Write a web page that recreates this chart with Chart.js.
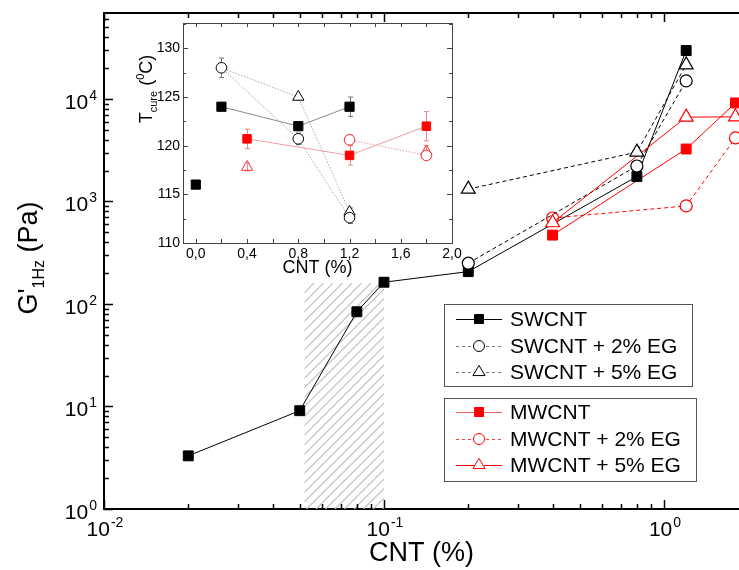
<!DOCTYPE html>
<html lang="en">
<head>
<meta charset="UTF-8">
<title>G' 1Hz vs CNT</title>
<script src="https://cdn.jsdelivr.net/npm/chart.js"></script>
<style>
  body { margin: 0; background: #fff; }
  #wrap { position: relative; width: 739px; height: 570px; }
  #main { position: absolute; left: 0; top: 0; }
  #inset { position: absolute; left: 130px; top: 15px; }
</style>
</head>
<body>
<div id="wrap">
  <canvas id="main" width="739" height="570"></canvas>
  <canvas id="inset" width="345" height="264"></canvas>
</div>
<script>
// main plot: G' at 1 Hz (Pa) against CNT content (%)
const swX = [0.02, 0.05, 0.08, 0.1, 0.2, 0.8, 1.2];
const swG = [3.3, 9.1, 84, 163, 207, 1750, 29700];
const sw2X = [0.2, 0.8, 1.2];
const sw2G = [250, 2220, 15000];
const sw5X = [0.2, 0.8, 1.2];
const sw5G = [1320, 3030, 21500];
const mwX = [0.4, 1.2, 1.8];
const mwG = [470, 3250, 9150];
const mw2X = [0.4, 1.2, 1.8];
const mw2G = [690, 905, 4170];
const mw5X = [0.4, 1.2, 1.8];
const mw5G = [620, 6650, 6700];
const xDecades = [0.01, 0.1, 1];
const yDecades = [1, 10, 100, 1000, 10000];
const hatchX = [0.052, 0.1];
const hatchTop = 160;

// inset: cure temperature (°C) against CNT content (%)
const inSwX = [0, 0.2, 0.8, 1.2];
const inSwT = [116, 124, 122, 124];
const inSwE = [0.3, 0.3, 0.4, 1.0];
const inSw2X = [0.2, 0.8, 1.2];
const inSw2T = [128, 120.7, 112.6];
const inSw2E = [1.0, 0.6, 0.6];
const inSw5X = [0.2, 0.8, 1.2];
const inSw5T = [128, 125, 113.2];
const inSw5E = [0, 0.3, 0.4];
const inMwX = [0.4, 1.2, 1.8];
const inMwT = [120.7, 119.0, 122.0];
const inMwE = [1.0, 1.0, 1.5];
const inMw2X = [1.2, 1.8];
const inMw2T = [120.6, 119.0];
const inMw2E = [0.5, 0.4];
const inMw5X = [0.4, 1.8];
const inMw5T = [117.8, 119.4];
const inMw5E = [0.4, 0.6];
const inXTicks = [0, 0.4, 0.8, 1.2, 1.6, 2.0];
const inYTicks = [110, 115, 120, 125, 130];

const FONT = '"Liberation Sans", Arial, sans-serif';
Chart.defaults.font.family = FONT;
Chart.defaults.color = '#000';

const pts = (xs, ys) => xs.map((x, i) => ({x: x, y: ys[i]}));

// "10" with a raised exponent; align 'right' -> right edge at x, 'center' -> centred on x
function drawPow(ctx, v, x, base, align) {
    const e = String(Math.round(Math.log10(v)));
    ctx.font = '21px ' + FONT;
    const wb = ctx.measureText('10').width;
    ctx.font = '14px ' + FONT;
    const we = ctx.measureText(e).width + 1;
    let sx = align === 'right' ? x - wb - we : x - (wb + we) / 2;
    ctx.font = '21px ' + FONT;
    ctx.fillText('10', sx, base);
    ctx.font = '14px ' + FONT;
    ctx.fillText(e, sx + wb + 1, base - 9);
}

function marker(ctx, style, x, y, r, stroke, fill) {
    ctx.beginPath();
    if (style === 'rect') ctx.rect(x - r, y - r, 2 * r, 2 * r);
    else if (style === 'circle') ctx.arc(x, y, r, 0, Math.PI * 2);
    else { ctx.moveTo(x, y - r * 1.2); ctx.lineTo(x + r * 1.1, y + r * 0.65); ctx.lineTo(x - r * 1.1, y + r * 0.65); ctx.closePath(); }
    ctx.fillStyle = fill; ctx.fill();
    ctx.lineWidth = 1; ctx.strokeStyle = stroke; ctx.stroke();
}

const legendRows = [
    {label: 'SWCNT', y: 319, line: '#000', dash: [], style: 'rect', stroke: '#000', fill: '#000'},
    {label: 'SWCNT + 2% EG', y: 346, line: '#777', dash: [3, 3], style: 'circle', stroke: '#000', fill: '#fff'},
    {label: 'SWCNT + 5% EG', y: 372, line: '#777', dash: [3, 3], style: 'triangle', stroke: '#000', fill: '#fff'},
    {label: 'MWCNT', y: 412, line: '#f06060', dash: [], style: 'rect', stroke: '#f00', fill: '#f00'},
    {label: 'MWCNT + 2% EG', y: 439, line: '#f04040', dash: [3, 3], style: 'circle', stroke: '#f00', fill: '#fff'},
    {label: 'MWCNT + 5% EG', y: 465, line: '#f00', dash: [], style: 'triangle', stroke: '#f00', fill: '#fff'}
];

const mainFrame = {
    id: 'mainFrame',
    beforeDatasetsDraw(chart) {
        // hatched percolation band
        const {ctx, chartArea: a, scales: {x, y}} = chart;
        const l = x.getPixelForValue(hatchX[0]), r = x.getPixelForValue(hatchX[1]);
        const t = y.getPixelForValue(hatchTop), b = a.bottom;
        ctx.save();
        ctx.beginPath(); ctx.rect(l, t, r - l, b - t); ctx.clip();
        ctx.strokeStyle = '#c4c4c4'; ctx.lineWidth = 1.3;
        ctx.beginPath();
        for (let k = l - (b - t); k < r + 10; k += 9.5) {
            ctx.moveTo(k, b); ctx.lineTo(k + (b - t), t);
        }
        ctx.stroke();
        ctx.restore();
    },
    afterDraw(chart) {
        const {ctx, chartArea: a, scales: {x, y}} = chart;
        ctx.save();
        ctx.strokeStyle = '#000';
        ctx.lineWidth = 2;
        ctx.beginPath(); ctx.moveTo(a.left - 1, a.top); ctx.lineTo(a.right, a.top); ctx.stroke();
        // inward ticks
        ctx.lineWidth = 1.5;
        ctx.beginPath();
        for (let d = 0.01; d < 5; d *= 10) {
            for (let m = 1; m < 10; m++) {
                const v = d * m;
                if (v > x.max) break;
                const px = Math.round(x.getPixelForValue(v)) + 0.5, len = m === 1 ? 9 : 5;
                ctx.moveTo(px, a.bottom); ctx.lineTo(px, a.bottom - len);
                ctx.moveTo(px, a.top); ctx.lineTo(px, a.top + len);
            }
        }
        for (let d = 1; d < 1e5; d *= 10) {
            for (let m = 1; m < 10; m++) {
                const v = d * m;
                if (v > y.max) break;
                const py = Math.round(y.getPixelForValue(v)) + 0.5, len = m === 1 ? 9 : 5;
                ctx.moveTo(a.left, py); ctx.lineTo(a.left + len, py);
            }
        }
        ctx.stroke();

        // decade tick labels
        ctx.fillStyle = '#000';
        ctx.textBaseline = 'alphabetic';
        ctx.textAlign = 'left';
        xDecades.forEach(v => drawPow(ctx, v, x.getPixelForValue(v) + 1, a.bottom + 27, 'center'));
        yDecades.forEach(v => drawPow(ctx, v, a.left - 7, y.getPixelForValue(v) + 10, 'right'));

        // legend boxes
        ctx.lineWidth = 1;
        ctx.strokeStyle = '#555';
        ctx.strokeRect(444.5, 304.5, 248, 82);
        ctx.strokeRect(444.5, 398.5, 252, 83);
        ctx.textBaseline = 'middle';
        legendRows.forEach(row => {
            ctx.setLineDash(row.dash);
            ctx.strokeStyle = row.line;
            ctx.lineWidth = 1;
            ctx.beginPath(); ctx.moveTo(456, row.y + 0.5); ctx.lineTo(502, row.y + 0.5); ctx.stroke();
            ctx.setLineDash([]);
            marker(ctx, row.style, 479, row.y, row.style === 'rect' ? 4.5 : 5.5, row.stroke, row.fill);
            ctx.fillStyle = '#000';
            ctx.font = '21px ' + FONT;
            ctx.fillText(row.label, 510, row.y + 1);
        });

        // y axis title G'1Hz (Pa)
        ctx.translate(37, 258);
        ctx.rotate(-Math.PI / 2);
        ctx.textBaseline = 'alphabetic';
        const big = '27px ' + FONT;
        const small = '16px ' + FONT;
        ctx.font = big; const w1 = ctx.measureText("G'").width;
        ctx.font = small; const w2 = ctx.measureText('1Hz').width;
        ctx.font = big; const w3 = ctx.measureText(' (Pa)').width;
        let sx = -(w1 + w2 + w3) / 2;
        ctx.fillStyle = '#000';
        ctx.font = big; ctx.fillText("G'", sx, 0); sx += w1;
        ctx.font = small; ctx.fillText('1Hz', sx, 7); sx += w2;
        ctx.font = big; ctx.fillText(' (Pa)', sx, 0);
        ctx.restore();
    }
};

new Chart(document.getElementById('main'), {
    type: 'scatter',
    data: {
        datasets: [
            {label: 'SWCNT', data: pts(swX, swG), showLine: true, borderColor: '#000', borderWidth: 1,
             pointStyle: 'rect', pointRadius: 7, pointBackgroundColor: '#000', pointBorderColor: '#000', order: 3},
            {label: 'SWCNT + 2% EG', data: pts(sw2X, sw2G), showLine: true, borderColor: '#000', borderWidth: 1, borderDash: [4, 3],
             pointStyle: 'circle', pointRadius: 6, pointBackgroundColor: '#fff', pointBorderColor: '#000', pointBorderWidth: 1.2, order: 2},
            {label: 'SWCNT + 5% EG', data: pts(sw5X, sw5G), showLine: true, borderColor: '#000', borderWidth: 1, borderDash: [4, 3],
             pointStyle: 'triangle', pointRadius: 8, pointBackgroundColor: '#fff', pointBorderColor: '#000', pointBorderWidth: 1.2, order: 1},
            {label: 'MWCNT', data: pts(mwX, mwG), showLine: true, borderColor: '#f00', borderWidth: 1,
             pointStyle: 'rect', pointRadius: 7, pointBackgroundColor: '#f00', pointBorderColor: '#f00', order: 3},
            {label: 'MWCNT + 2% EG', data: pts(mw2X, mw2G), showLine: true, borderColor: '#f00', borderWidth: 1, borderDash: [4, 3],
             pointStyle: 'circle', pointRadius: 6, pointBackgroundColor: '#fff', pointBorderColor: '#f00', pointBorderWidth: 1.2, order: 2},
            {label: 'MWCNT + 5% EG', data: pts(mw5X, mw5G), showLine: true, borderColor: '#f00', borderWidth: 1,
             pointStyle: 'triangle', pointRadius: 8, pointBackgroundColor: '#fff', pointBorderColor: '#f00', pointBorderWidth: 1.2, order: 1}
        ]
    },
    options: {
        responsive: false,
        animation: false,
        layout: {autoPadding: false, padding: {top: 13, right: 0, left: 0, bottom: 0}},
        plugins: {legend: {display: false}, tooltip: {enabled: false}},
        scales: {
            x: {
                type: 'logarithmic', min: 0.01, max: 1.853,
                afterBuildTicks: ax => { ax.ticks = xDecades.map(v => ({value: v})); },
                afterFit: ax => { ax.height = 61; ax.paddingLeft = 0; ax.paddingRight = 0; },
                ticks: {display: false},
                grid: {display: false, drawTicks: false},
                border: {color: '#000', width: 2},
                title: {display: true, text: 'CNT (%)', font: {size: 27}, padding: 0}
            },
            y: {
                type: 'logarithmic', min: 1, max: 69000,
                afterBuildTicks: ax => { ax.ticks = yDecades.map(v => ({value: v})); },
                afterFit: ax => { ax.width = 104; ax.paddingTop = 0; ax.paddingBottom = 0; },
                ticks: {display: false},
                grid: {display: false, drawTicks: false},
                border: {color: '#000', width: 2}
            }
        }
    },
    plugins: [mainFrame]
});

const insetFrame = {
    id: 'insetFrame',
    beforeDraw(chart) {
        const {ctx, chartArea: a} = chart;
        ctx.save(); ctx.fillStyle = '#fff';
        ctx.fillRect(a.left, a.top, a.right - a.left, a.bottom - a.top);
        ctx.restore();
    },
    beforeDatasetsDraw(chart) {
        // error bars
        const {ctx, scales: {x, y}} = chart;
        ctx.save(); ctx.lineWidth = 1;
        chart.data.datasets.forEach(ds => {
            ctx.strokeStyle = ds.errColor;
            ds.data.forEach((p, i) => {
                const e = ds.errors[i];
                if (!e) return;
                const px = Math.round(x.getPixelForValue(p.x)) + 0.5;
                const t = y.getPixelForValue(p.y + e), b = y.getPixelForValue(p.y - e);
                ctx.beginPath();
                ctx.moveTo(px, t); ctx.lineTo(px, b);
                ctx.moveTo(px - 2.5, t); ctx.lineTo(px + 2.5, t);
                ctx.moveTo(px - 2.5, b); ctx.lineTo(px + 2.5, b);
                ctx.stroke();
            });
        });
        ctx.restore();
    },
    afterDraw(chart) {
        const {ctx, chartArea: a, scales: {x, y}} = chart;
        ctx.save();
        ctx.strokeStyle = '#444'; ctx.lineWidth = 1;
        ctx.strokeRect(Math.round(a.left) + 0.5, Math.round(a.top) + 0.5, Math.round(a.right - a.left), Math.round(a.bottom - a.top));
        ctx.beginPath();
        for (let v = 0; v <= 2.001; v += 0.2) {
            const px = Math.round(x.getPixelForValue(v)) + 0.5;
            ctx.moveTo(px, a.bottom); ctx.lineTo(px, a.bottom - 4);
            ctx.moveTo(px, a.top); ctx.lineTo(px, a.top + 4);
        }
        for (let v = 110; v <= y.max; v += 2.5) {
            const py = Math.round(y.getPixelForValue(v)) + 0.5, len = v % 5 === 0 ? 5 : 3;
            ctx.moveTo(a.left, py); ctx.lineTo(a.left + len, py);
            ctx.moveTo(a.right, py); ctx.lineTo(a.right - len, py);
        }
        ctx.stroke();

        // y title T_cure (0C)
        ctx.translate(22, 74);
        ctx.rotate(-Math.PI / 2);
        ctx.fillStyle = '#000';
        const big = '18px ' + FONT;
        const small = '11px ' + FONT;
        const parts = [['T', big, 0], ['cure', small, 5], [' (', big, 0], ['0', small, -8], ['C)', big, 0]];
        let total = 0;
        parts.forEach(p => { ctx.font = p[1]; total += ctx.measureText(p[0]).width; });
        let sx = -total / 2;
        parts.forEach(p => { ctx.font = p[1]; ctx.fillText(p[0], sx, p[2]); sx += ctx.measureText(p[0]).width; });
        ctx.restore();
    }
};

new Chart(document.getElementById('inset'), {
    type: 'scatter',
    data: {
        datasets: [
            {label: 'SWCNT', data: pts(inSwX, inSwT), errors: inSwE, errColor: '#777', showLine: true, borderWidth: 1,
             segment: {borderColor: c => c.p0DataIndex === 0 ? 'rgba(0,0,0,0)' : '#8a8a8a'}, borderColor: '#8a8a8a',
             pointStyle: 'rect', pointRadius: 6.5, pointBackgroundColor: '#000', pointBorderColor: '#000', order: 1},
            {label: 'SWCNT + 2% EG', data: pts(inSw2X, inSw2T), errors: inSw2E, errColor: '#777', showLine: true, borderWidth: 1,
             borderColor: '#aaa', borderDash: [1.5, 1.5],
             pointStyle: 'circle', pointRadius: 5.3, pointBackgroundColor: '#fff', pointBorderColor: '#000', order: 2},
            {label: 'SWCNT + 5% EG', data: pts(inSw5X, inSw5T), errors: inSw5E, errColor: '#777', showLine: true, borderWidth: 1,
             borderColor: '#aaa', borderDash: [1.5, 1.5],
             pointStyle: 'triangle', pointRadius: [0, 6.5, 6.5], pointBackgroundColor: '#fff', pointBorderColor: '#000', order: 3},
            {label: 'MWCNT', data: pts(inMwX, inMwT), errors: inMwE, errColor: '#e88', showLine: true, borderWidth: 1,
             borderColor: '#eba0a0',
             pointStyle: 'rect', pointRadius: 6, pointBackgroundColor: '#f00', pointBorderColor: '#f00', order: 1},
            {label: 'MWCNT + 2% EG', data: pts(inMw2X, inMw2T), errors: inMw2E, errColor: '#e88', showLine: true, borderWidth: 1,
             borderColor: '#eba0a0', borderDash: [1.5, 1.5],
             pointStyle: 'circle', pointRadius: 5.3, pointBackgroundColor: '#fff', pointBorderColor: '#f22', order: 2},
            {label: 'MWCNT + 5% EG', data: pts(inMw5X, inMw5T), errors: inMw5E, errColor: '#e88', showLine: false,
             pointStyle: 'triangle', pointRadius: 6.5, pointBackgroundColor: 'rgba(255,255,255,0)', pointBorderColor: '#f33', order: 3}
        ]
    },
    options: {
        responsive: false,
        animation: false,
        layout: {autoPadding: false, padding: {top: 8, right: 23, left: 0, bottom: 0}},
        plugins: {legend: {display: false}, tooltip: {enabled: false}},
        scales: {
            x: {
                type: 'linear', min: -0.1, max: 2.0,
                afterBuildTicks: ax => { ax.ticks = inXTicks.map(v => ({value: v})); },
                afterFit: ax => { ax.height = 36; ax.paddingLeft = 0; ax.paddingRight = 0; },
                ticks: {callback: v => v.toFixed(1).replace('.', ','), font: {size: 14}, padding: 3, maxRotation: 0, autoSkip: false},
                grid: {display: false, drawTicks: false},
                border: {display: false},
                title: {display: true, text: 'CNT (%)', font: {size: 18}, padding: 0}
            },
            y: {
                type: 'linear', min: 110, max: 132.6,
                afterBuildTicks: ax => { ax.ticks = inYTicks.map(v => ({value: v})); },
                afterFit: ax => { ax.width = 53; ax.paddingTop = 0; ax.paddingBottom = 0; },
                ticks: {font: {size: 14}, padding: 3, autoSkip: false},
                grid: {display: false, drawTicks: false},
                border: {display: false}
            }
        }
    },
    plugins: [insetFrame]
});
</script>
</body>
</html>
